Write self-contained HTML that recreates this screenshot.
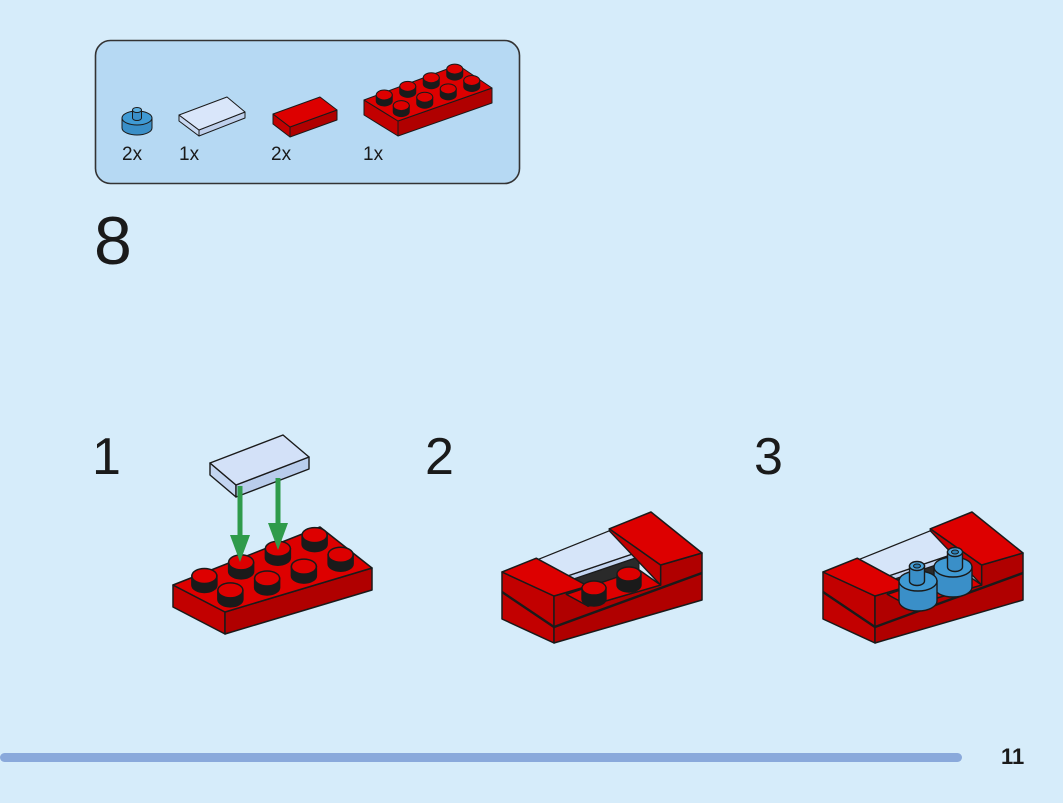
<!DOCTYPE html>
<html><head><meta charset="utf-8"><style>
html,body{margin:0;padding:0;background:#d6ecfa;}
body{width:1063px;height:803px;position:relative;overflow:hidden;font-family:"Liberation Sans",sans-serif;color:#1a1a1a;}
svg{position:absolute;left:0;top:0;}
</style></head><body>
<svg id="s" width="1063" height="803" viewBox="0 0 1063 803">
<rect x="95.5" y="40.5" width="424" height="143" rx="15" fill="#b6d9f3" stroke="#333" stroke-width="1.6"/>
<rect x="0" y="753" width="962" height="9" rx="4.5" fill="#8aa9db"/>
<g id="g"></g>
<text x="122" y="160" font-size="19" fill="#1a1a1a" font-family="Liberation Sans">2x</text>
<text x="179" y="160" font-size="19" fill="#1a1a1a" font-family="Liberation Sans">1x</text>
<text x="271" y="160" font-size="19" fill="#1a1a1a" font-family="Liberation Sans">2x</text>
<text x="363" y="160" font-size="19" fill="#1a1a1a" font-family="Liberation Sans">1x</text>
<text x="94" y="264" font-size="68" fill="#1a1a1a" font-family="Liberation Sans">8</text>
<text x="92" y="474" font-size="52" fill="#1a1a1a" font-family="Liberation Sans">1</text>
<text x="425" y="474" font-size="52" fill="#1a1a1a" font-family="Liberation Sans">2</text>
<text x="754" y="474" font-size="52" fill="#1a1a1a" font-family="Liberation Sans">3</text>
<text x="1001" y="764" font-size="22" font-weight="bold" fill="#1a1a1a" font-family="Liberation Sans">11</text>
</svg>
<script>
var g=document.getElementById('g'),out='';
var RED='#dd0000',RS='#c20000',RS2='#b00000',K='#1a1a1a';
function pts(a){return a.map(function(p){return p[0].toFixed(1)+','+p[1].toFixed(1)}).join(' ');}
function poly(a,f,sw){out+='<polygon points="'+pts(a)+'" fill="'+f+'" stroke="'+K+'" stroke-width="'+(sw||1.4)+'" stroke-linejoin="round"/>';}
function dn(p,h){return [p[0],p[1]+h];}
function Q(C,u,v,dz){
 var a=[C.F[0]+(C.R[0]-C.F[0])*u, C.F[1]+(C.R[1]-C.F[1])*u];
 var b=[C.L[0]+(C.B[0]-C.L[0])*u, C.L[1]+(C.B[1]-C.L[1])*u];
 return [a[0]+(b[0]-a[0])*v, a[1]+(b[1]-a[1])*v+(dz||0)];
}
function box(C,h,top,s1,s2,sw){
 poly([C.L,C.F,dn(C.F,h),dn(C.L,h)],s1,sw);
 poly([C.F,C.R,dn(C.R,h),dn(C.F,h)],s2,sw);
 poly([C.L,C.F,C.R,C.B],top,sw);
}
function cyl(cx,cy,rx,ry,h,top,side,sw){
 sw=sw||1.4;
 out+='<path d="M'+(cx-rx)+','+cy+' L'+(cx-rx)+','+(cy+h)+' A'+rx+','+ry+' 0 0 0 '+(cx+rx)+','+(cy+h)+' L'+(cx+rx)+','+cy+' Z" fill="'+side+'" stroke="'+K+'" stroke-width="'+sw+'"/>';
 out+='<ellipse cx="'+cx+'" cy="'+cy+'" rx="'+rx+'" ry="'+ry+'" fill="'+top+'" stroke="'+K+'" stroke-width="'+sw+'"/>';
}
function plate(C,h,nx,srx,sry,sh,sw){
 box(C,h,RED,RS,RS2,sw);
 for(var v=1;v>=0;v--)for(var i=nx-1;i>=0;i--){var p=Q(C,(i+0.5)/nx,(v+0.5)/2);cyl(p[0],p[1]-sh,srx,sry,sh,RED,K,sw);}
}
// parts
cyl(137,118,15,7,10,'#3f9ad4','#3a8fc8',1);
cyl(137,110,4.5,2.5,8,'#5aaee0','#3a8fc8',1);
box({F:[199,130],R:[245,112],L:[179,115],B:[227,97]},6,'#d9e6fa','#c9d9f2','#bfd0ec',1);
box({F:[290,127],R:[337,110],L:[273,114],B:[320,97]},10,RED,RS,RS2,1);
plate({F:[398,121],R:[492,88],L:[364,100],B:[458,65]},15,4,8,5,6,1);
// step 1
plate({F:[225,612],R:[372,568],L:[173,585],B:[320,527]},22,4,12.5,7.5,9,1.5);
box({F:[236,485],R:[309,457],L:[210,463],B:[283,435]},12,'#d3e1f8','#c3d5f1','#b9cdec',1.4);
function arrow(x,y1,y2){
 out+='<rect x="'+(x-2.5)+'" y="'+y1+'" width="5" height="'+(y2-y1-22)+'" fill="#2f9b4b"/>';
 out+='<polygon points="'+(x-10)+','+(y2-27)+' '+(x+10)+','+(y2-27)+' '+x+','+y2+'" fill="#2f9b4b"/>';
}
arrow(240,486,562);arrow(278,478,550);
// steps 2 & 3
function step(ox,blue){
 var C={F:[875+ox,596],R:[1023+ox,553],L:[823+ox,572],B:[972+ox,512]};
 var H=47,d=20,u1=0.23,u2=0.72;
 poly([C.L,C.F,dn(C.F,H),dn(C.L,H)],RS,1.5);
 var a=Q(C,u1,0),b=Q(C,u2,0);
 poly([C.F,a,dn(a,d),dn(b,d),b,C.R,dn(C.R,H),dn(C.F,H)],RS2,1.5);
 out+='<polyline points="'+pts([dn(C.L,20),dn(C.F,31),dn(C.R,20)])+'" fill="none" stroke="'+K+'" stroke-width="2.4"/>';
 poly([Q(C,u1,0.42,7),Q(C,u2,0.42,7),Q(C,u2,0.42,d),Q(C,u1,0.42,d)],'#2a2a2a',1);
 poly([Q(C,u1,0,d),Q(C,u2,0,d),Q(C,u2,0.42,d),Q(C,u1,0.42,d)],RED,1.4);
 poly([Q(C,u1,0.42,2),Q(C,u2,0.42,2),Q(C,u2,0.42,7),Q(C,u1,0.42,7)],'#c3d5f1',1.2);
 poly([Q(C,u1,0.42,2),Q(C,u2,0.42,2),Q(C,u2,1,2),Q(C,u1,1,2)],'#d6e5f9',1.3);
 poly([Q(C,u2,0),Q(C,u2,0,d),Q(C,u2,1,2),Q(C,u2,1)],RS,1.4);
 poly([Q(C,u2,0),C.R,C.B,Q(C,u2,1)],RED,1.5);
 poly([C.F,Q(C,u1,0),Q(C,u1,1),C.L],RED,1.5);
 if(!blue){
  cyl(629,574,12,7,11,RED,K,1.4);
  cyl(594,588,12,7,11,RED,K,1.4);
 } else {
  [[953,567,955,552],[918,581,917,566]].forEach(function(s){
   cyl(s[0],s[1],19,10,20,'#3f9ad4','#3a8fc8',1.4);
   cyl(s[2],s[3],7.5,4.5,s[1]-s[3],'#4aa3da','#3a8fc8',1.4);
   out+='<ellipse cx="'+s[2]+'" cy="'+s[3]+'" rx="3.5" ry="2" fill="#2d7fb5" stroke="#1a1a1a" stroke-width="1"/>';
  });
 }
}
step(-321,false);step(0,true);
g.innerHTML=out;
</script>
</body></html>
